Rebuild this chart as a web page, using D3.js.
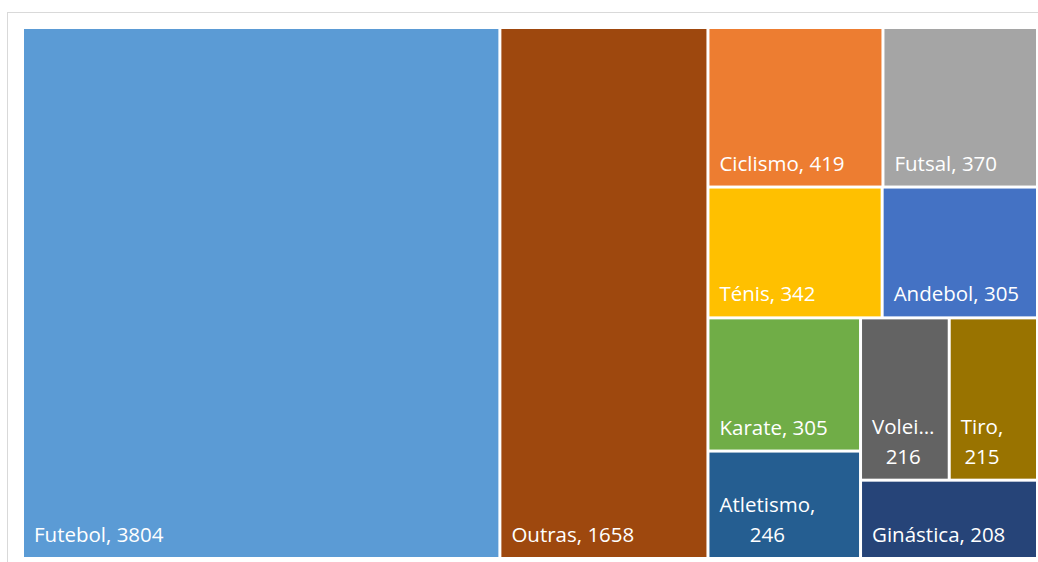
<!DOCTYPE html>
<meta charset="utf-8" />
<style>
    body { margin: 0; background: #fff; }
    text { font-family: "Open Sans", Lato, sans-serif; }
</style>
<svg width="1038" height="562"></svg>
<script src="https://d3js.org/d3.v7.min.js"></script>
<script>
    // sports and number of entries
    var categories = ["Futebol", "Outras", "Ciclismo", "Futsal", "Ténis", "Andebol",
        "Karate", "Atletismo", "Voleibol", "Tiro", "Ginástica"];
    var values = [3804, 1658, 419, 370, 342, 305, 305, 246, 216, 215, 208];
    var colors = ["#5B9BD5", "#9E480E", "#ED7D31", "#A5A5A5", "#FFC000", "#4472C4",
        "#70AD47", "#255E91", "#636363", "#997300", "#264478"];

    // how the tiles are grouped (slice / dice alternate by depth, like the excel one)
    var groups = ["Futebol", "Outras", [
        ["Ciclismo", "Futsal"],
        ["Ténis", "Andebol"],
        [["Karate", "Atletismo"], [["Voleibol", "Tiro"], "Ginástica"]]
    ]];

    var svg = d3.select("svg");

    // light frame around the chart
    svg.append("rect")
        .attr("x", 7.5).attr("y", 12.5)
        .attr("width", 1050).attr("height", 570)
        .attr("fill", "none")
        .attr("stroke", "#d9d9d9");

    function build(item) {
        if (typeof item === "string") {
            var i = categories.indexOf(item);
            return { name: item, value: values[i], color: colors[i] };
        }
        return { children: item.map(build) };
    }

    var root = d3.hierarchy(build(groups)).sum(function (d) { return d.value || 0; });

    d3.treemap()
        .tile(d3.treemapSliceDice)
        .size([1012, 528])
        .paddingInner(3)(root);

    var g = svg.append("g").attr("transform", "translate(24,29)");

    var cells = g.selectAll("g")
        .data(root.leaves())
        .enter()
        .append("g")
        .attr("transform", function (d) { return "translate(" + d.x0 + "," + d.y0 + ")"; });

    cells.append("rect")
        .attr("width", function (d) { return d.x1 - d.x0; })
        .attr("height", function (d) { return d.y1 - d.y0; })
        .attr("fill", function (d) { return d.data.color; });

    var fontSize = 20.5, lineH = 29.5, padX = 10, padB = 15;

    cells.each(function (d) {
        var cell = d3.select(this);
        var w = d.x1 - d.x0, h = d.y1 - d.y0;
        var avail = w - 2 * padX;
        var text = cell.append("text")
            .attr("fill", "#fff")
            .attr("font-size", fontSize);
        var full = d.data.name + ", " + d.data.value;
        text.text(full);
        if (text.node().getComputedTextLength() <= avail) {
            text.attr("x", padX).attr("y", h - padB);
            return;
        }
        // wrap on two lines, shorten the name if needed
        var first = d.data.name + ",";
        text.text(first);
        if (text.node().getComputedTextLength() > avail) {
            var n = d.data.name;
            while (n.length > 1) {
                n = n.slice(0, -1);
                text.text(n + "…");
                if (text.node().getComputedTextLength() <= avail) break;
            }
            first = n + "…";
        }
        text.text(null);
        var lines = [first, String(d.data.value)];
        text.append("tspan").text(lines[0]);
        var bw = text.node().getComputedTextLength();
        text.attr("text-anchor", "middle");
        text.selectAll("tspan")
            .data(lines)
            .join("tspan")
            .attr("x", padX + bw / 2)
            .attr("y", function (l, i) { return h - padB - (lines.length - 1 - i) * lineH; })
            .text(function (l) { return l; });
    });
</script>
